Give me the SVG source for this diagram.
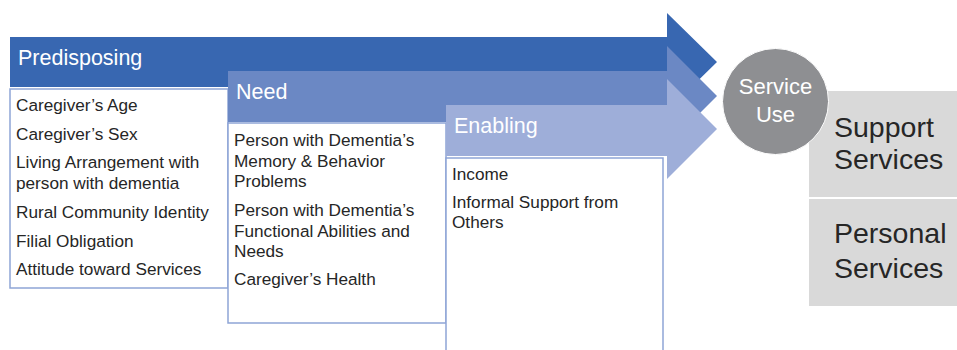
<svg xmlns="http://www.w3.org/2000/svg" width="957" height="350" viewBox="0 0 957 350">
<style>
.hdr{font-family:"Liberation Sans",Arial,sans-serif;font-size:21.5px;fill:#ffffff}
.item{font-family:"Liberation Sans",Arial,sans-serif;font-size:17.2px;fill:#262626}
.box{fill:#ffffff;stroke:#8ea5d6;stroke-width:1.5}
.out{fill:#d9d9d9}
.outt{font-family:"Liberation Sans",Arial,sans-serif;font-size:28.5px;fill:#262626}
.circt{font-family:"Liberation Sans",Arial,sans-serif;font-size:22px;fill:#ffffff}
</style>
<rect width="957" height="350" fill="#ffffff"/>
<g id="predisposing">
<polygon points="10,37 667,37 667,13 717,62 667,111 667,87 10,87" fill="#3867b1"/>
<text class="hdr" x="18" y="65">Predisposing</text>
<rect class="box" x="10" y="89" width="218" height="199"/>
<text class="item" x="16" y="111">Caregiver’s Age</text>
<text class="item" x="16" y="140">Caregiver’s Sex</text>
<text class="item" x="16" y="168">Living Arrangement with</text>
<text class="item" x="16" y="189">person with dementia</text>
<text class="item" x="16" y="218">Rural Community Identity</text>
<text class="item" x="16" y="247">Filial Obligation</text>
<text class="item" x="16" y="275">Attitude toward Services</text>
</g>
<g id="need">
<polygon points="228,71 667,71 667,46 717,96 667,146 667,122 228,122" fill="#6b88c4"/>
<text class="hdr" x="236" y="99">Need</text>
<rect class="box" x="228" y="123" width="218" height="200"/>
<text class="item" x="234" y="146">Person with Dementia’s</text>
<text class="item" x="234" y="167">Memory &amp; Behavior</text>
<text class="item" x="234" y="187">Problems</text>
<text class="item" x="234" y="216">Person with Dementia’s</text>
<text class="item" x="234" y="237">Functional Abilities and</text>
<text class="item" x="234" y="257">Needs</text>
<text class="item" x="234" y="285">Caregiver’s Health</text>
</g>
<g id="enabling">
<polygon points="446,105 667,105 667,79 717,129 667,179 667,156 446,156" fill="#9eaed9"/>
<text class="hdr" x="454" y="133">Enabling</text>
<rect class="box" x="446" y="158" width="217" height="200"/>
<text class="item" x="452" y="180">Income</text>
<text class="item" x="452" y="208">Informal Support from</text>
<text class="item" x="452" y="228">Others</text>
</g>
<g id="support-services">
<rect class="out" x="809" y="91" width="150" height="106"/>
<text class="outt" x="834" y="137">Support</text>
<text class="outt" x="834" y="169">Services</text>
</g>
<g id="personal-services">
<rect class="out" x="809" y="199" width="150" height="107"/>
<text class="outt" x="834" y="243">Personal</text>
<text class="outt" x="834" y="278">Services</text>
</g>
<g id="service-use">
<circle cx="775.5" cy="101.5" r="53" fill="#8e8f92" stroke="#ffffff" stroke-width="1"/>
<text class="circt" x="775.5" y="94" text-anchor="middle">Service</text>
<text class="circt" x="775.5" y="122" text-anchor="middle">Use</text>
</g>
<g id="connectors"></g>
</svg>
